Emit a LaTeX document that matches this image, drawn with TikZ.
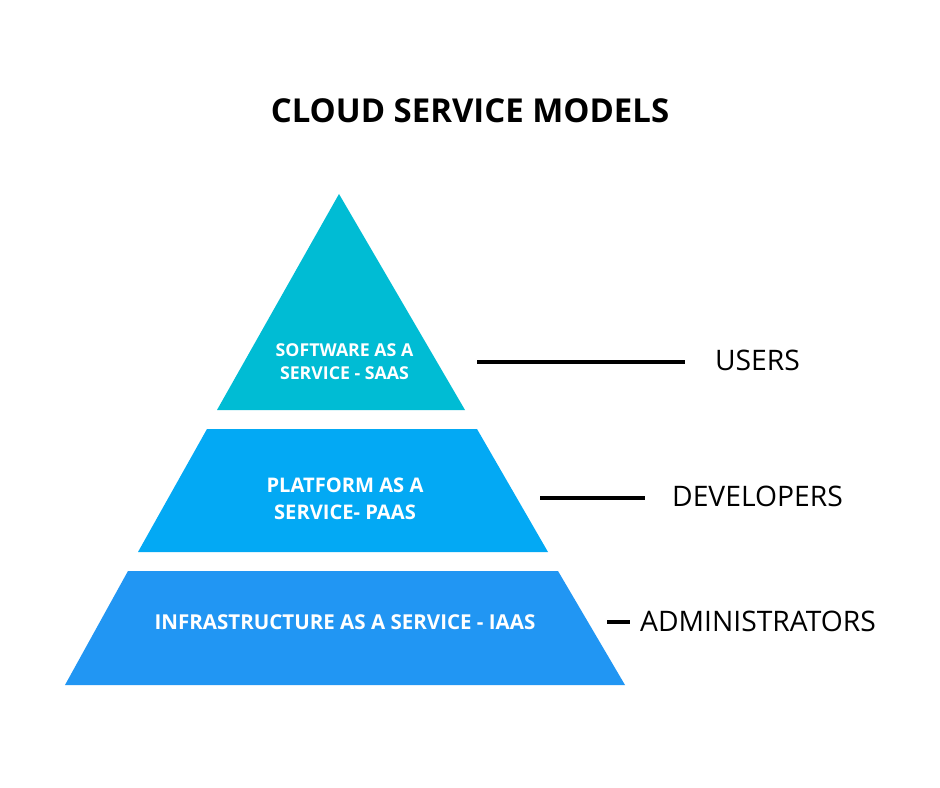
\documentclass[tikz,border=0pt]{standalone}
\usepackage{fontspec}
\setmainfont{Open Sans}
\definecolor{saas}{HTML}{00BCD4}
\definecolor{paas}{HTML}{03A9F4}
\definecolor{iaas}{HTML}{2196F3}
\begin{document}
\begin{tikzpicture}[x=0.75pt,y=-0.75pt,
  inlabel/.style={text=white,align=center,inner sep=0pt},
  rolelabel/.style={text=black,font=\fontsize{21.2}{25}\selectfont,inner sep=0pt},
  tick/.style={line width=3.4pt,black}]
\useasboundingbox[fill=white] (0,0) rectangle (940,788);
% title
\node[font=\bfseries\fontsize{24.7}{29}\selectfont,inner sep=0pt] (title) at (470,111) {CLOUD SERVICE MODELS};
% layers
\fill[saas] (339,194) -- (465,410) -- (217,410) -- cycle;
\fill[paas] (207,429) -- (477,429) -- (548,552) -- (138,552) -- cycle;
\fill[iaas] (128,571) -- (558,571) -- (625,685) -- (65,685) -- cycle;
% inner labels
\node[inlabel,font=\bfseries\fontsize{13.3}{17.25}\selectfont] (saasT) at (344.5,361.5) {SOFTWARE AS A\\SERVICE - SAAS};
\node[inlabel,font=\bfseries\fontsize{15.1}{20.25}\selectfont] (paasT) at (345,498.5) {PLATFORM AS A\\SERVICE- PAAS};
\node[inlabel,font=\bfseries\fontsize{15.4}{18}\selectfont] (iaasT) at (345,622.5) {INFRASTRUCTURE AS A SERVICE - IAAS};
% role labels
\node[rolelabel] (users) at (757.5,360.5) {USERS};
\node[rolelabel] (devs) at (757.5,496.5) {DEVELOPERS};
\node[rolelabel] (admins) at (758,621.5) {ADMINISTRATORS};
% ticks
\coordinate (u1) at (477,362); \coordinate (u2) at (685,362);
\coordinate (d1) at (540,498); \coordinate (d2) at (645,498);
\coordinate (a1) at (607,622); \coordinate (a2) at (630,622);
\draw[tick] (u1) -- (u2);
\draw[tick] (d1) -- (d2);
\draw[tick] (a1) -- (a2);
\end{tikzpicture}
\end{document}
